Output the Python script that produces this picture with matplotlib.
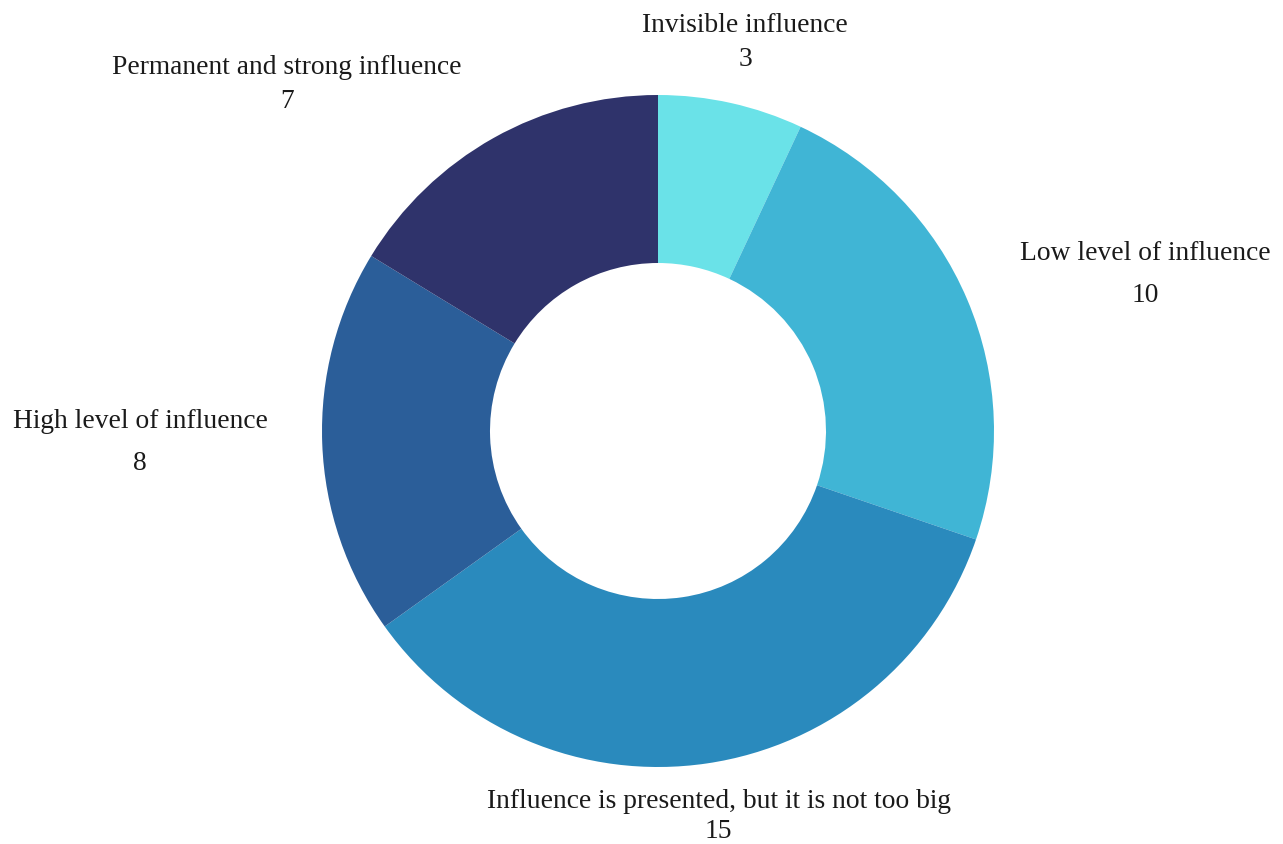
import matplotlib.pyplot as plt

labels = ["Invisible influence", "Low level of influence",
          "Influence is presented, but it is not too big",
          "High level of influence", "Permanent and strong influence"]
values = [3, 10, 15, 8, 7]
colors = ["#6AE2E8", "#40B5D5", "#2A8ABD", "#2B5E99", "#2F336B"]

# label placement in figure pixels (top-left origin): name line, value line
name_pos = [(745, 25), (1145, 253), (719, 802), (140, 422), (287, 67)]
value_pos = [(745, 59), (1145, 296), (718, 831), (140, 463), (287, 101)]

W, H = 1283, 844
fig = plt.figure(figsize=(W / 100, H / 100), dpi=100)
ax = fig.add_axes([0, 0, 1, 1])

cx, cy, r = 658, H - 431, 336
ax.pie(values, colors=colors, startangle=90, counterclock=False,
       center=(cx, cy), radius=r, frame=True,
       wedgeprops=dict(width=r * 0.5, edgecolor="none"))
ax.set_xlim(0, W)
ax.set_ylim(0, H)
ax.set_aspect("equal")
ax.axis("off")

font = dict(family="Liberation Serif", fontsize=19.8, color="#1a1a1a",
            ha="center", va="center")
for name, v, (nx, ny), (vx, vy) in zip(labels, values, name_pos, value_pos):
    ax.text(nx, H - ny, name, **font)
    ax.text(vx, H - vy, str(v), **font)

fig.savefig("out.png", dpi=100)
